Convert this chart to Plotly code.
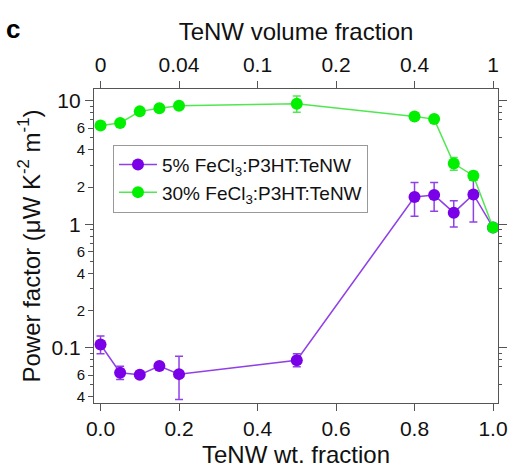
import plotly.graph_objects as go
import math

# ---- data ----
wt_fraction = [0.0, 0.05, 0.10, 0.15, 0.20, 0.50, 0.80, 0.85, 0.90, 0.95, 1.00]

pf_5 = [0.106, 0.0626, 0.0604, 0.071, 0.061, 0.079, 1.66, 1.72, 1.24, 1.74, 0.94]
err5_plus = [0.018, 0.008, 0.003, 0.003, 0.024, 0.010, 0.52, 0.46, 0.31, 0.53, 0.03]
err5_minus = [0.017, 0.0075, 0.003, 0.003, 0.023, 0.009, 0.50, 0.45, 0.29, 0.70, 0.03]

pf_30 = [6.3, 6.6, 8.2, 8.7, 9.1, 9.45, 7.45, 7.1, 3.1, 2.47, 0.94]
err30_plus = [0.3, 0.3, 0.4, 0.4, 0.5, 1.45, 0.4, 0.4, 0.37, 0.2, 0.04]
err30_minus = [0.3, 0.3, 0.4, 0.4, 0.5, 1.40, 0.4, 0.4, 0.36, 0.2, 0.04]

series_names = ["5% FeCl<sub>3</sub>:P3HT:TeNW", "30% FeCl<sub>3</sub>:P3HT:TeNW"]

bottom_tickvals = [0.0, 0.2, 0.4, 0.6, 0.8, 1.0]
bottom_ticktext = ["0.0", "0.2", "0.4", "0.6", "0.8", "1.0"]
top_ticktext = ["0", "0.04", "0.1", "0.2", "0.4", "1"]

y_major_vals = [0.1, 1, 10]
y_major_text = ["0.1", "1", "10"]
y_small_vals = [0.04, 0.06, 0.2, 0.4, 0.6, 2, 4, 6]
y_small_text = ["4", "6", "2", "4", "6", "2", "4", "6"]
y_minor = [0.05, 0.07, 0.08, 0.09, 0.3, 0.5, 0.7, 0.8, 0.9, 3, 5, 7, 8, 9]

# ---- styling ----
FONT = "Liberation Sans, Arial, sans-serif"
PURPLE = "#7A00E8"
PURPLE_LINE = "#9040E8"
GREEN = "#00F000"
GREEN_LINE = "#50E850"
AX = "#555555"

fig = go.Figure()
fig.add_trace(go.Scatter(
    x=wt_fraction, y=pf_5, mode="lines+markers", name=series_names[0],
    line=dict(color=PURPLE_LINE, width=1.5),
    marker=dict(color=PURPLE, size=12, line=dict(width=0)),
    error_y=dict(type="data", symmetric=False, array=err5_plus, arrayminus=err5_minus,
                 color=PURPLE_LINE, thickness=1.5, width=4),
))
fig.add_trace(go.Scatter(
    x=wt_fraction, y=pf_30, mode="lines+markers", name=series_names[1],
    line=dict(color=GREEN_LINE, width=1.5),
    marker=dict(color=GREEN, size=12, line=dict(width=0)),
    error_y=dict(type="data", symmetric=False, array=err30_plus, arrayminus=err30_minus,
                 color=GREEN_LINE, thickness=1.5, width=4),
))
# invisible helper traces so the top axis and the small-label y axis are drawn
fig.add_trace(go.Scatter(
    x=wt_fraction, y=pf_30, xaxis="x2", mode="markers",
    marker=dict(opacity=0), showlegend=False, hoverinfo="skip",
))
fig.add_trace(go.Scatter(
    x=wt_fraction, y=pf_30, yaxis="y2", mode="markers",
    marker=dict(opacity=0), showlegend=False, hoverinfo="skip",
))

xr = [-0.0166, 1.0127]
yr = [math.log10(0.0356), 1.095]

fig.update_layout(
    width=509, height=468,
    margin=dict(l=94, r=11, t=89, b=65),
    paper_bgcolor="white", plot_bgcolor="white",
    font=dict(family=FONT, size=21, color="#111111"),
    showlegend=True,
    legend=dict(
        x=0.047, y=0.823, xanchor="left", yanchor="top",
        bgcolor="white", bordercolor="#999999", borderwidth=1,
        font=dict(size=19, family=FONT), itemwidth=38,
        tracegroupgap=0,
    ),
    xaxis=dict(
        range=xr, tickmode="array", tickvals=bottom_tickvals, ticktext=bottom_ticktext,
        ticks="outside", ticklen=7, tickwidth=1.3, tickcolor=AX,
        showline=True, linecolor=AX, linewidth=1.3, mirror=False,
        showgrid=False, zeroline=False, automargin=False,
        title=dict(text="TeNW wt. fraction", font=dict(size=24), standoff=9),
        tickfont=dict(size=21),
    ),
    xaxis2=dict(
        range=xr, overlaying="x", side="top", anchor="y",
        tickmode="array", tickvals=bottom_tickvals, ticktext=top_ticktext,
        ticks="outside", ticklen=7, tickwidth=1.3, tickcolor=AX,
        showline=True, linecolor=AX, linewidth=1.3,
        showgrid=False, zeroline=False, automargin=False,
        title=dict(text="TeNW volume fraction", font=dict(size=24), standoff=6),
        tickfont=dict(size=21),
    ),
    yaxis=dict(
        type="log", range=yr,
        tickmode="array", tickvals=y_major_vals, ticktext=y_major_text,
        ticks="outside", ticklen=8, tickwidth=1.3, tickcolor=AX,
        minor=dict(tickmode="array", tickvals=y_minor, ticks="outside",
                   ticklen=3, tickwidth=1, tickcolor=AX, showgrid=False),
        showline=True, linecolor=AX, linewidth=1.3, mirror="ticks",
        showgrid=False, zeroline=False, automargin=False,
        title=dict(text="Power factor (μW K<sup>-2</sup> m<sup>-1</sup>)",
                   font=dict(size=24), standoff=4),
        tickfont=dict(size=21),
    ),
    yaxis2=dict(
        type="log", range=yr, overlaying="y", side="left", anchor="x",
        tickmode="array", tickvals=y_small_vals, ticktext=y_small_text,
        ticks="outside", ticklen=5, tickwidth=1.2, tickcolor=AX,
        showline=False, showgrid=False, zeroline=False, automargin=False,
        tickfont=dict(size=15),
    ),
)

fig.add_annotation(
    text="<b>c</b>", xref="paper", yref="paper", x=-0.20, y=1.19,
    xanchor="center", yanchor="middle", showarrow=False,
    font=dict(size=26, family=FONT, color="black"),
)

fig.write_html("out.html")
